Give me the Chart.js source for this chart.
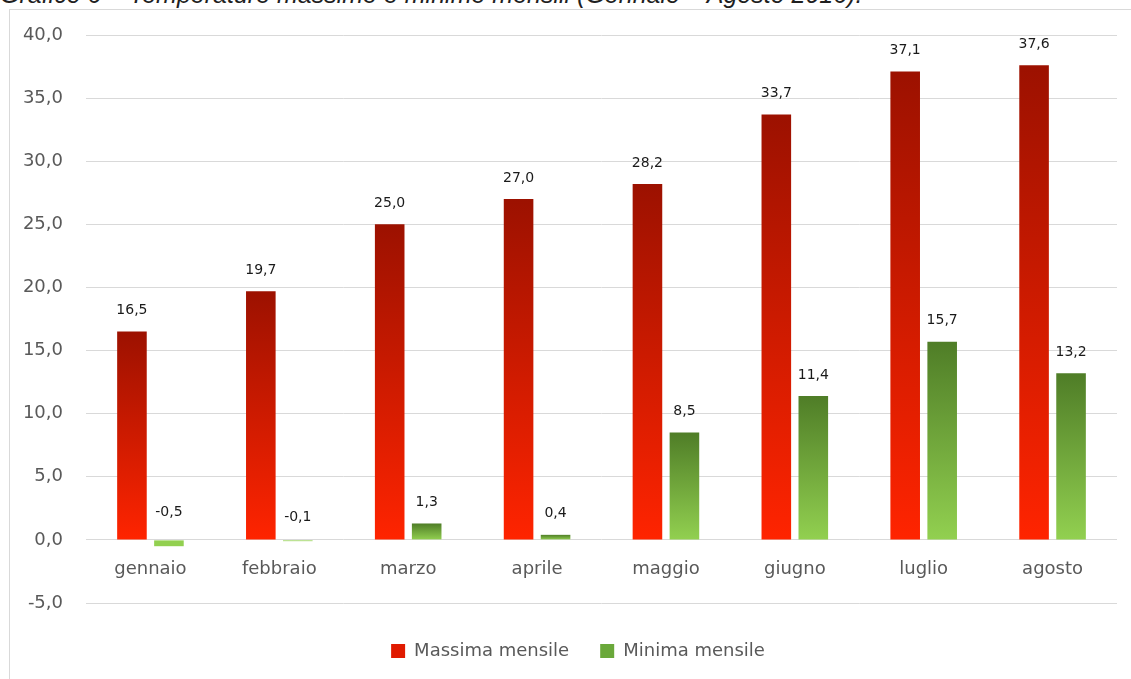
<!DOCTYPE html>
<html lang="it">
<head>
<meta charset="utf-8">
<title>Temperature massime e minime mensili</title>
<script src="https://cdn.jsdelivr.net/npm/chart.js@4.4.1/dist/chart.umd.min.js"></script>
<style>
    html, body { margin: 0; padding: 0; background: #fff; overflow: hidden; }
    .title {
        position: absolute; left: 0; top: -18px; white-space: nowrap;
        font: italic 25px/25px "Liberation Sans", Arial, sans-serif; color: #1f1f1f;
    }
    .frame {
        position: absolute; left: 9px; top: 9px; width: 1200px; height: 800px;
        border: 1px solid #d9d9d9; box-sizing: border-box;
    }
    .wrap { position: absolute; left: 0; top: 0; width: 1131px; height: 679px; }
</style>
</head>
<body>
<div class="title">Grafico 6 – Temperature massime e minime mensili (Gennaio – Agosto 2016).</div>
<div class="frame"></div>
<div class="wrap"><canvas id="temp-chart"></canvas></div>
<script>
    // Data
    var mesi = ["gennaio", "febbraio", "marzo", "aprile", "maggio", "giugno", "luglio", "agosto"];
    var massima = [16.5, 19.7, 25.0, 27.0, 28.2, 33.7, 37.1, 37.6];
    var minima = [-0.5, -0.1, 1.3, 0.4, 8.5, 11.4, 15.7, 13.2];
    var yTicks = [-5, 0, 5, 10, 15, 20, 25, 30, 35, 40];

    var fontFamily = "'DejaVu Sans', Verdana, sans-serif";

    function virgola(v) {
        return Number(v).toFixed(1).replace(".", ",");
    }

    // gradient for each single bar, dark on top
    function barGradient(top, bottom) {
        return function (context) {
            var chart = context.chart;
            if (!chart.chartArea || context.type !== "data") {
                return bottom;
            }
            var y = chart.scales.y;
            var v = Math.abs(context.raw);
            var y0 = y.getPixelForValue(v);
            var y1 = y.getPixelForValue(0);
            if (Math.abs(y1 - y0) < 1) {
                return bottom;
            }
            var g = chart.ctx.createLinearGradient(0, y0, 0, y1);
            g.addColorStop(0, top);
            g.addColorStop(1, bottom);
            return g;
        };
    }

    // Value labels over the bars
    var valueLabels = {
        id: "valueLabels",
        afterDatasetsDraw: function (chart) {
            var ctx = chart.ctx;
            var y = chart.scales.y;
            ctx.save();
            ctx.font = "14px " + fontFamily;
            ctx.fillStyle = "#1a1a1a";
            ctx.textAlign = "center";
            ctx.textBaseline = "middle";
            chart.data.datasets.forEach(function (ds, i) {
                var meta = chart.getDatasetMeta(i);
                meta.data.forEach(function (bar, j) {
                    var v = ds.data[j];
                    ctx.fillText(virgola(v), bar.x, y.getPixelForValue(Math.abs(v)) - 21);
                });
            });
            ctx.restore();
        }
    };

    // Legend sits a bit right of the canvas middle
    var legendShift = {
        id: "legendShift",
        afterLayout: function (chart) {
            var lg = chart.legend;
            var dx = 578 - (lg.left + lg.right) / 2;
            lg.left += dx;
            lg.right += dx;
        }
    };

    // Chart
    var ctx = document.getElementById("temp-chart").getContext("2d");
    var myChart = new Chart(ctx, {
        type: "bar",
        data: {
            labels: mesi,
            datasets: [{
                    label: "Massima mensile",
                    data: massima,
                    backgroundColor: barGradient("#9c1100", "#ff2400"),
                    legendColor: "#e01a00"
                },
                {
                    label: "Minima mensile",
                    data: minima,
                    backgroundColor: barGradient("#4f7d27", "#92d050"),
                    legendColor: "#6aa83a"
                }
            ]
        },
        options: {
            responsive: true,
            maintainAspectRatio: false,
            animation: false,
            datasets: {
                bar: { categoryPercentage: 0.574, barPercentage: 0.8 }
            },
            layout: {
                padding: { left: 10, right: 14, top: 35, bottom: 9 }
            },
            plugins: {
                tooltip: { enabled: false },
                legend: {
                    position: "bottom",
                    title: { display: true, text: "", padding: 0, font: { size: 8, lineHeight: 1 } },
                    labels: {
                        boxWidth: 14,
                        boxHeight: 14,
                        padding: 31,
                        color: "#595959",
                        font: { family: fontFamily, size: 18 },
                        generateLabels: function (chart) {
                            return chart.data.datasets.map(function (ds, i) {
                                return {
                                    text: ds.label,
                                    fillStyle: ds.legendColor,
                                    strokeStyle: ds.legendColor,
                                    lineWidth: 0,
                                    fontColor: "#595959",
                                    datasetIndex: i
                                };
                            });
                        }
                    }
                }
            },
            scales: {
                x: {
                    position: { y: 0 },
                    grid: { display: false },
                    border: { display: false },
                    ticks: {
                        color: "#595959",
                        padding: 11,
                        font: { family: fontFamily, size: 18 }
                    }
                },
                y: {
                    min: -5,
                    max: 40,
                    afterFit: function (scale) { scale.width = 76; },
                    afterBuildTicks: function (scale) {
                        scale.ticks = yTicks.map(function (v) { return { value: v }; });
                    },
                    grid: { color: "#d9d9d9", lineWidth: 1, drawTicks: false },
                    border: { display: false },
                    ticks: {
                        color: "#595959",
                        padding: 23,
                        font: { family: fontFamily, size: 18 },
                        callback: function (v) { return virgola(v); }
                    }
                }
            }
        },
        plugins: [valueLabels, legendShift]
    });
</script>
</body>
</html>
